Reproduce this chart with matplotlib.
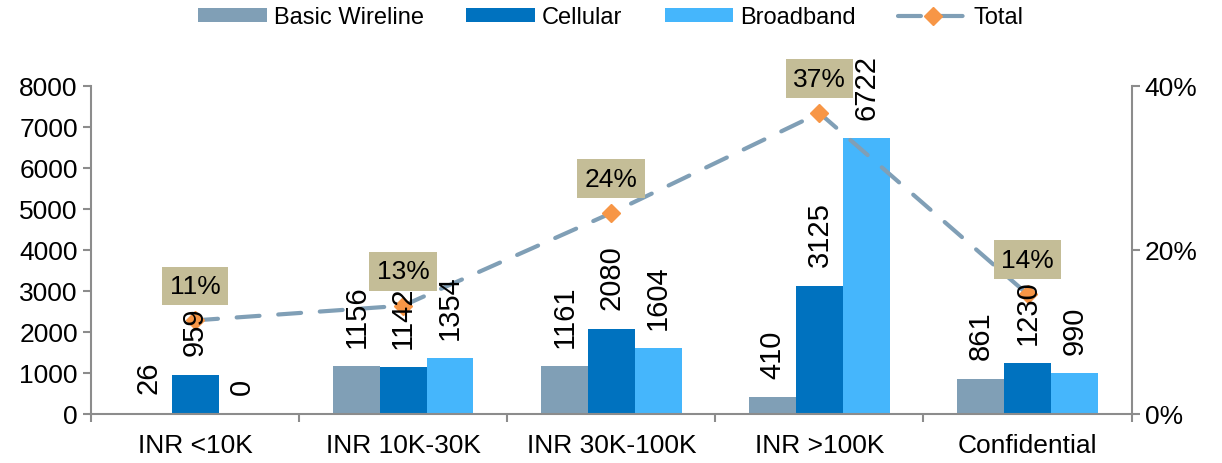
import matplotlib.pyplot as plt
import numpy as np

plt.rcParams['font.family'] = ['Liberation Sans', 'DejaVu Sans']

categories = ['INR <10K', 'INR 10K-30K', 'INR 30K-100K', 'INR >100K', 'Confidential']
wireline = [26, 1156, 1161, 410, 861]
cellular = [959, 1142, 2080, 3125, 1230]
broadband = [0, 1354, 1604, 6722, 990]
total_pct = [11.4, 13.2, 24.5, 36.7, 14.6]
total_labels = ['11%', '13%', '24%', '37%', '14%']

c_wire = '#809fb6'
c_cell = '#0072bf'
c_broad = '#45b6fc'
c_line = '#809fb6'
c_mark = '#f79646'
c_axis = '#8c8c8c'

fig = plt.figure(figsize=(12.22, 4.64), dpi=100)
ax = fig.add_axes([0.0745, 0.106, 0.8515, 0.7065])
ax2 = ax.twinx()
ax2.set_zorder(ax.get_zorder() + 1)
ax2.patch.set_visible(False)

x = np.arange(len(categories))
w = 0.225
series = [(wireline, c_wire, 'Basic Wireline'),
          (cellular, c_cell, 'Cellular'),
          (broadband, c_broad, 'Broadband')]
handles = []
for i, (vals, col, name) in enumerate(series):
    bars = ax.bar(x + (i - 1) * w, vals, w, color=col, label=name, zorder=2)
    handles.append(bars)
    # labels go on the top axes so they sit over the line markers
    for xi, v in zip(x + (i - 1) * w, vals):
        ax2.annotate(str(v), (xi, v), xycoords=ax.transData,
                     xytext=(0, 14), textcoords='offset points',
                     rotation=90, ha='center', va='bottom', fontsize=21, zorder=6)

line, = ax2.plot(x, total_pct, color=c_line, lw=3, dashes=(5.5, 4.5),
                 dash_capstyle='round',
                 marker='D', markersize=9, markerfacecolor=c_mark,
                 markeredgecolor=c_mark, label='Total', zorder=3)
for xi, v, lab in zip(x, total_pct, total_labels):
    ax2.text(xi, v + 4.2, lab, ha='center', va='center', fontsize=19,
             bbox=dict(boxstyle='square,pad=0.28', fc='#c4bd97', ec='none'),
             zorder=7)

ax.set_ylim(0, 8000)
ax.set_yticks(range(0, 8001, 1000))
ax2.set_ylim(0, 40)
ax2.set_yticks([0, 20, 40])
ax2.set_yticklabels(['0%', '20%', '40%'])
ax.set_xlim(-0.5, len(categories) - 0.5)
ax.set_xticks(x)
ax.set_xticklabels(categories)
ax.set_xticks(np.arange(-0.5, len(categories) + 0.5, 1), minor=True)
ax.tick_params(axis='x', which='major', length=0, labelsize=19, pad=14)
ax.tick_params(axis='x', which='minor', length=6, color=c_axis, width=1.5)
ax.tick_params(axis='y', length=6, color=c_axis, width=1.5, labelsize=19)
ax2.tick_params(axis='y', length=6, color=c_axis, width=1.5, labelsize=19)

for a in (ax, ax2):
    a.spines['top'].set_visible(False)
    for s in ('left', 'right', 'bottom'):
        a.spines[s].set_color(c_axis)
        a.spines[s].set_linewidth(1.5)
ax.spines['right'].set_visible(False)
ax2.spines['left'].set_visible(False)
ax2.spines['bottom'].set_visible(False)

fig.legend(handles + [line], ['Basic Wireline', 'Cellular', 'Broadband', 'Total'],
           loc='upper center', bbox_to_anchor=(0.5, 1.03), ncol=4, frameon=False,
           fontsize=17, handlelength=2.9, handleheight=0.5, columnspacing=1.8,
           handletextpad=0.3)

fig.savefig('out.png', dpi=100)
